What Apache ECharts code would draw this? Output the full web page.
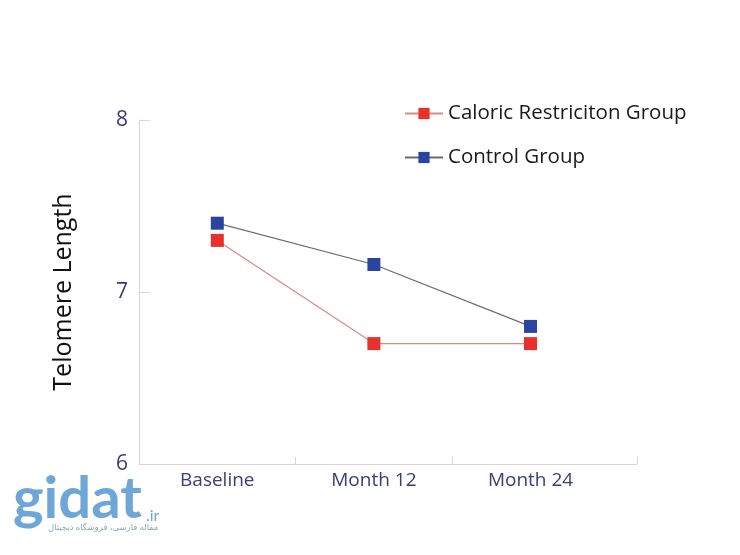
<!DOCTYPE html>
<html><head><meta charset="utf-8">
<script src="https://cdn.jsdelivr.net/npm/echarts@6/dist/echarts.min.js"></script>
<style>html,body{margin:0;padding:0;background:#fff}#c{width:740px;height:555px}</style>
</head><body><div id="c"></div>
<script>
const categories = ['Baseline', 'Month 12', 'Month 24'];
const caloricValues = [7.30, 6.70, 6.70];
const controlValues = [7.40, 7.16, 6.80];
const yTicks = [6, 7, 8];
const seriesNames = ['Caloric Restriciton Group', 'Control Group'];

const chart = echarts.init(document.getElementById('c'), null, {renderer: 'canvas'});
const font = '"Open Sans", "Noto Sans", sans-serif';
const labelColor = '#3c3c78';
const axisGrey = '#d6d6d6';
const GL = 139, GR = 637, GT = 120, GB = 464;
const xMin = -0.5, xMax = 2.68;   // category band axis, slightly extended past the last band
const toPairs = arr => arr.map((v, i) => [i, v]);

chart.setOption({
  backgroundColor: '#fff',
  animation: false,
  grid: {left: GL, right: 740 - GR, top: GT, bottom: 555 - GB, containLabel: false},
  legend: {
    left: 399, top: 98, orient: 'vertical', itemGap: 23,
    itemWidth: 38, itemHeight: 14,
    textStyle: {fontFamily: font, fontSize: 20.5, color: '#1a1a1a'},
    data: seriesNames
  },
  xAxis: {
    type: 'value', min: xMin, max: xMax,
    axisLine: {show: true, onZero: false, lineStyle: {color: axisGrey, width: 1}},
    axisTick: {show: true, inside: true, length: 7, lineStyle: {color: axisGrey},
               customValues: [0.5, 1.5, xMax]},
    splitLine: {show: false},
    axisLabel: {fontFamily: font, fontSize: 19, color: labelColor, margin: 7,
                customValues: [0, 1, 2], formatter: v => categories[Math.round(v)] || ''}
  },
  yAxis: {
    type: 'value', min: yTicks[0], max: yTicks[yTicks.length - 1], interval: 1,
    name: 'Telomere Length', nameLocation: 'middle', nameGap: 63, nameRotate: 90,
    nameTextStyle: {fontFamily: font, fontSize: 25, color: '#111'},
    axisLine: {show: true, onZero: false, lineStyle: {color: axisGrey, width: 1}},
    axisTick: {show: true, inside: true, length: 11, lineStyle: {color: axisGrey}},
    splitLine: {show: false},
    axisLabel: {fontFamily: font, fontSize: 21, color: labelColor, margin: 11}
  },
  series: [
    {name: seriesNames[0], type: 'line', data: toPairs(caloricValues), symbol: 'rect', symbolSize: 13,
     itemStyle: {color: '#e8302c'}, lineStyle: {color: '#d98a80', width: 1.2}, z: 3},
    {name: seriesNames[1], type: 'line', data: toPairs(controlValues), symbol: 'rect', symbolSize: 13,
     itemStyle: {color: '#2a45a0'}, lineStyle: {color: '#6a6a72', width: 1.2}, z: 4}
  ],
  graphic: [
    {type: 'text', left: 13, top: 470, style: {text: 'gidat', font: 'bold 58px "Lato", sans-serif', fill: '#6fa6d8'}},
    {type: 'text', left: 146, top: 508, style: {text: '.ir', font: '16px "Lato", sans-serif', fill: '#6fa6d8'}},
    {type: 'text', left: 48, top: 523, style: {text: 'مقاله فارسی، فروشگاه دیجیتال', font: '8.5px "Noto Sans", "DejaVu Sans", sans-serif', fill: '#8aa'}}
  ]
});
</script></body></html>
